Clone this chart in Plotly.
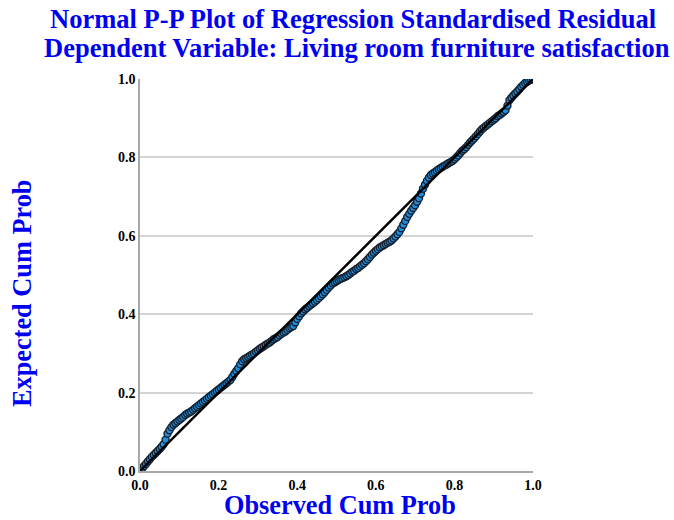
import plotly.graph_objects as go

observed_cum_prob = [
    0.000, 0.005, 0.010, 0.015, 0.020, 0.025, 0.030, 0.035, 0.040, 0.045,
    0.050, 0.055, 0.060, 0.065, 0.070, 0.075, 0.080, 0.085, 0.090, 0.095,
    0.100, 0.105, 0.110, 0.115, 0.120, 0.125, 0.130, 0.135, 0.140, 0.145,
    0.150, 0.155, 0.160, 0.165, 0.170, 0.175, 0.180, 0.185, 0.190, 0.195,
    0.200, 0.205, 0.210, 0.215, 0.220, 0.225, 0.230, 0.235, 0.240, 0.245,
    0.250, 0.255, 0.260, 0.265, 0.270, 0.275, 0.280, 0.285, 0.290, 0.295,
    0.300, 0.305, 0.310, 0.315, 0.320, 0.325, 0.330, 0.335, 0.340, 0.345,
    0.350, 0.355, 0.360, 0.365, 0.370, 0.375, 0.380, 0.385, 0.390, 0.395,
    0.400, 0.405, 0.410, 0.415, 0.420, 0.425, 0.430, 0.435, 0.440, 0.445,
    0.450, 0.455, 0.460, 0.465, 0.470, 0.475, 0.480, 0.485, 0.490, 0.495,
    0.500, 0.505, 0.510, 0.515, 0.520, 0.525, 0.530, 0.535, 0.540, 0.545,
    0.550, 0.555, 0.560, 0.565, 0.570, 0.575, 0.580, 0.585, 0.590, 0.595,
    0.600, 0.605, 0.610, 0.615, 0.620, 0.625, 0.630, 0.635, 0.640, 0.645,
    0.650, 0.655, 0.660, 0.665, 0.670, 0.675, 0.680, 0.685, 0.690, 0.695,
    0.700, 0.705, 0.710, 0.715, 0.720, 0.725, 0.730, 0.735, 0.740, 0.745,
    0.750, 0.755, 0.760, 0.765, 0.770, 0.775, 0.780, 0.785, 0.790, 0.795,
    0.800, 0.805, 0.810, 0.815, 0.820, 0.825, 0.830, 0.835, 0.840, 0.845,
    0.850, 0.855, 0.860, 0.865, 0.870, 0.875, 0.880, 0.885, 0.890, 0.895,
    0.900, 0.905, 0.910, 0.915, 0.920, 0.925, 0.930, 0.935, 0.940, 0.945,
    0.950, 0.955, 0.960, 0.965, 0.970, 0.975, 0.980, 0.985, 0.990, 0.995,
    1.000,
]
expected_cum_prob = [
    0.000, 0.006, 0.012, 0.018, 0.024, 0.030, 0.036, 0.041, 0.046, 0.051,
    0.056, 0.062, 0.068, 0.080, 0.095, 0.104, 0.112, 0.118, 0.122, 0.126,
    0.130, 0.134, 0.138, 0.143, 0.146, 0.149, 0.152, 0.156, 0.160, 0.164,
    0.168, 0.172, 0.176, 0.180, 0.184, 0.188, 0.192, 0.196, 0.200, 0.204,
    0.208, 0.212, 0.216, 0.220, 0.224, 0.228, 0.232, 0.240, 0.248, 0.255,
    0.262, 0.272, 0.280, 0.285, 0.288, 0.291, 0.294, 0.297, 0.300, 0.304,
    0.308, 0.312, 0.315, 0.318, 0.322, 0.325, 0.328, 0.332, 0.336, 0.339,
    0.342, 0.346, 0.350, 0.353, 0.356, 0.360, 0.364, 0.367, 0.370, 0.379,
    0.388, 0.395, 0.402, 0.407, 0.412, 0.416, 0.420, 0.424, 0.428, 0.432,
    0.436, 0.441, 0.446, 0.451, 0.456, 0.462, 0.468, 0.473, 0.478, 0.481,
    0.484, 0.487, 0.490, 0.492, 0.494, 0.497, 0.500, 0.504, 0.508, 0.511,
    0.515, 0.518, 0.522, 0.526, 0.530, 0.535, 0.540, 0.546, 0.552, 0.557,
    0.562, 0.566, 0.570, 0.573, 0.576, 0.579, 0.582, 0.585, 0.588, 0.593,
    0.598, 0.604, 0.610, 0.619, 0.628, 0.638, 0.648, 0.656, 0.664, 0.671,
    0.678, 0.687, 0.696, 0.708, 0.720, 0.730, 0.740, 0.748, 0.755, 0.759,
    0.762, 0.766, 0.770, 0.773, 0.776, 0.779, 0.782, 0.785, 0.788, 0.791,
    0.795, 0.800, 0.805, 0.811, 0.817, 0.821, 0.826, 0.832, 0.838, 0.843,
    0.848, 0.854, 0.860, 0.866, 0.872, 0.876, 0.880, 0.884, 0.888, 0.892,
    0.896, 0.900, 0.905, 0.908, 0.912, 0.916, 0.920, 0.932, 0.946, 0.952,
    0.958, 0.963, 0.968, 0.974, 0.980, 0.985, 0.990, 0.993, 0.996, 0.998,
    1.000,
]
reference_line_x = [0.0, 1.0]
reference_line_y = [0.0, 1.0]
tick_values = [0.0, 0.2, 0.4, 0.6, 0.8, 1.0]
tick_labels = ["0.0", "0.2", "0.4", "0.6", "0.8", "1.0"]

title_line_1 = "Normal P-P Plot of Regression Standardised Residual"
title_line_2 = "Dependent Variable: Living room furniture satisfaction"
x_title = "Observed Cum Prob"
y_title = "Expected Cum Prob"

SERIF = "Liberation Serif, Times New Roman, serif"
BLUE = "#0000f0"

# plot-area edges in page pixels (the page body margin is removed below)
PX0, PX1, PY0, PY1 = 140, 533, 79, 471


def px(x):
    return (x - PX0) / (PX1 - PX0)


def py(y):
    return (PY1 - y) / (PY1 - PY0)


fig = go.Figure()
fig.add_trace(go.Scatter(
    x=observed_cum_prob, y=expected_cum_prob, mode="markers",
    marker=dict(size=7, color="#1e8fe0", line=dict(color="#15202e", width=1.4)),
    showlegend=False, hoverinfo="skip",
))
fig.add_trace(go.Scatter(
    x=reference_line_x, y=reference_line_y, mode="lines",
    line=dict(color="#000000", width=2.5),
    showlegend=False, hoverinfo="skip",
))

axis_common = dict(
    range=[0, 1], tickvals=tick_values, ticktext=tick_labels,
    zeroline=False, showline=True, linecolor="#a8a8a8", linewidth=1.5,
    ticks="", tickfont=dict(family=SERIF, size=14, color="black", weight="bold"),
    fixedrange=True,
)

fig.update_layout(
    width=674, height=520,
    margin=dict(l=PX0, r=674 - PX1, t=PY0, b=520 - PY1),
    paper_bgcolor="white", plot_bgcolor="white",
    font=dict(family=SERIF, color="black"),
    xaxis=dict(showgrid=False, **axis_common),
    yaxis=dict(showgrid=True, gridcolor="#d4d4d4", gridwidth=1.5, **axis_common),
    annotations=[
        dict(text="<b>" + title_line_1 + "</b>", xref="paper", yref="paper",
             x=px(352.5), y=py(18.5), xanchor="center", yanchor="middle",
             showarrow=False, font=dict(family=SERIF, size=26.5, color=BLUE)),
        dict(text="<b>" + title_line_2 + "</b>", xref="paper", yref="paper",
             x=px(357), y=py(48.5), xanchor="center", yanchor="middle",
             showarrow=False, font=dict(family=SERIF, size=26.5, color=BLUE)),
        dict(text="<b>" + x_title + "</b>", xref="paper", yref="paper",
             x=px(340), y=py(505), xanchor="center", yanchor="middle",
             showarrow=False, font=dict(family=SERIF, size=26.3, color=BLUE)),
        dict(text="<b>" + y_title + "</b>", xref="paper", yref="paper",
             x=px(22), y=py(293), xanchor="center", yanchor="middle",
             textangle=-90, showarrow=False, font=dict(family=SERIF, size=26.3, color=BLUE)),
    ],
)

fig.write_html(
    "out.html",
    config={"displayModeBar": False},
    post_script="document.body.style.margin='0';document.body.style.overflow='hidden';",
)
